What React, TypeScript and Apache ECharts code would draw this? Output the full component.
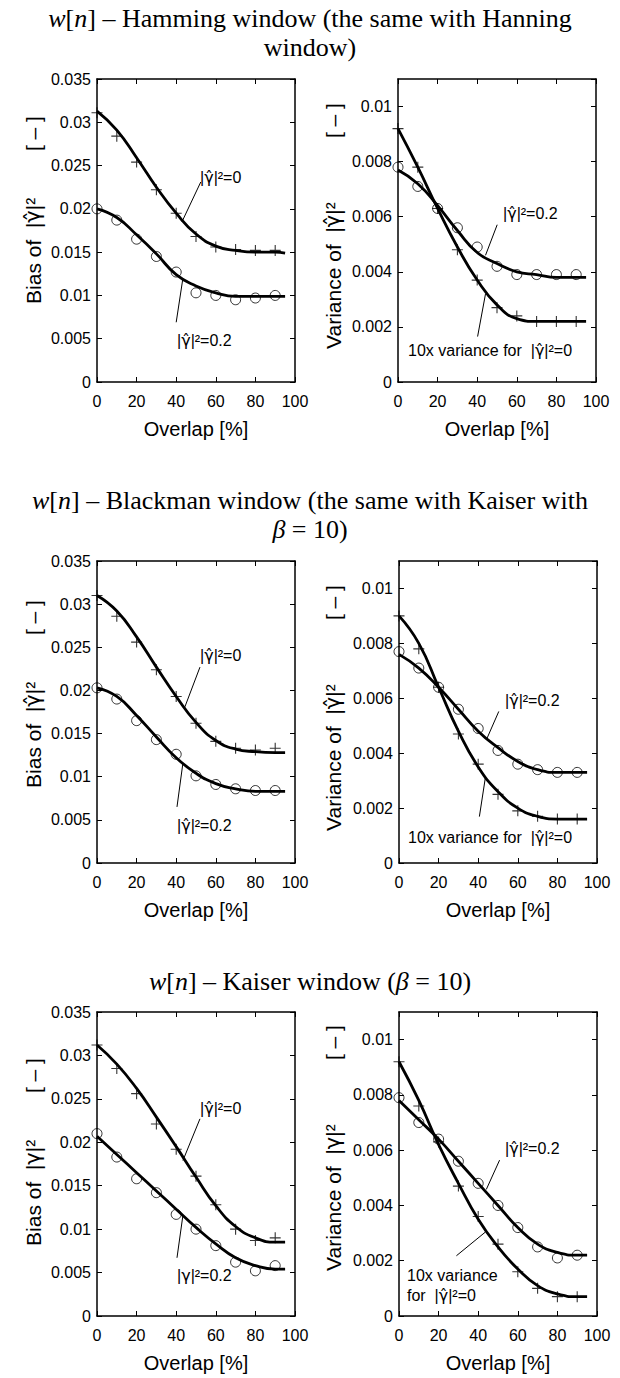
import React, { useEffect, useRef } from "react";
import * as echarts from "echarts";

// ---------- data ----------
const overlap = [0, 10, 20, 30, 40, 50, 60, 70, 80, 90];
const fitOverlap = [0, 10, 20, 30, 40, 50, 60, 70, 80, 90, 95];

const xTickLabels = [0, 20, 40, 60, 80, 100];
const biasTickLabels = [0, 0.005, 0.01, 0.015, 0.02, 0.025, 0.03, 0.035];
const varianceTickLabels = [0, 0.002, 0.004, 0.006, 0.008, 0.01];
const varianceAxisMax = 0.011;

// Hamming window
const hammingBiasG0 = [0.0311, 0.0284, 0.0254, 0.0222, 0.0195, 0.0168, 0.0156, 0.0153, 0.0152, 0.0152];
const hammingBiasG0Fit = [0.0313, 0.0291, 0.0259, 0.0225, 0.0195, 0.0171, 0.0157, 0.0152, 0.015, 0.015, 0.0149];
const hammingBiasG02 = [0.02, 0.0187, 0.0165, 0.0145, 0.0127, 0.0103, 0.01, 0.0095, 0.0097, 0.01];
const hammingBiasG02Fit = [0.02, 0.019, 0.017, 0.0148, 0.0124, 0.0111, 0.0103, 0.0099, 0.0099, 0.0099, 0.0099];
const hammingVarG0 = [0.0092, 0.0078, 0.0063, 0.0048, 0.0037, 0.0027, 0.0024, 0.0022, 0.0022, 0.0022];
const hammingVarG0Fit = [0.0092, 0.0078, 0.0063, 0.0049, 0.0037, 0.0028, 0.0023, 0.0022, 0.0022, 0.0022, 0.0022];
const hammingVarG02 = [0.0078, 0.0071, 0.0063, 0.0056, 0.0049, 0.0042, 0.0039, 0.0039, 0.0039, 0.0039];
const hammingVarG02Fit = [0.0077, 0.0072, 0.0064, 0.0055, 0.0047, 0.0043, 0.004, 0.0039, 0.0038, 0.0038, 0.0038];

// Blackman window
const blackmanBiasG0 = [0.031, 0.0286, 0.0256, 0.0224, 0.0193, 0.0162, 0.0141, 0.0133, 0.0131, 0.0133];
const blackmanBiasG0Fit = [0.031, 0.0292, 0.0262, 0.0227, 0.0193, 0.0163, 0.0142, 0.0132, 0.0129, 0.0128, 0.0128];
const blackmanBiasG02 = [0.0203, 0.019, 0.0165, 0.0143, 0.0126, 0.0101, 0.0091, 0.0086, 0.0084, 0.0084];
const blackmanBiasG02Fit = [0.0203, 0.0193, 0.0171, 0.0146, 0.0122, 0.0104, 0.0092, 0.0086, 0.0083, 0.0083, 0.0083];
const blackmanVarG0 = [0.009, 0.0078, 0.0064, 0.0047, 0.0036, 0.0025, 0.0019, 0.0017, 0.0016, 0.0016];
const blackmanVarG0Fit = [0.009, 0.008, 0.0064, 0.0048, 0.0035, 0.0026, 0.002, 0.0017, 0.0016, 0.0016, 0.0016];
const blackmanVarG02 = [0.0077, 0.0071, 0.0064, 0.0056, 0.0049, 0.0041, 0.0036, 0.0034, 0.0033, 0.0033];
const blackmanVarG02Fit = [0.0076, 0.0071, 0.0064, 0.0056, 0.0048, 0.0042, 0.0037, 0.0034, 0.0033, 0.0033, 0.0033];

// Kaiser window
const kaiserBiasG0 = [0.0312, 0.0285, 0.0256, 0.0221, 0.0192, 0.0161, 0.0128, 0.01, 0.0087, 0.009];
const kaiserBiasG0Fit = [0.0312, 0.029, 0.0262, 0.0229, 0.0195, 0.016, 0.0127, 0.0103, 0.009, 0.0085, 0.0085];
const kaiserBiasG02 = [0.021, 0.0183, 0.0158, 0.0142, 0.0117, 0.01, 0.0081, 0.0062, 0.0052, 0.0058];
const kaiserBiasG02Fit = [0.0207, 0.0186, 0.0165, 0.0144, 0.0123, 0.0102, 0.0083, 0.0067, 0.0058, 0.0054, 0.0054];
const kaiserVarG0 = [0.0092, 0.0076, 0.0063, 0.0047, 0.0036, 0.0026, 0.0016, 0.001, 0.0007, 0.0007];
const kaiserVarG0Fit = [0.0092, 0.0078, 0.0062, 0.0048, 0.0035, 0.0025, 0.0017, 0.0011, 0.0008, 0.0007, 0.0007];
const kaiserVarG02 = [0.0079, 0.007, 0.0064, 0.0056, 0.0048, 0.004, 0.0032, 0.0025, 0.0021, 0.0022];
const kaiserVarG02Fit = [0.0078, 0.0071, 0.0064, 0.0056, 0.0048, 0.004, 0.0032, 0.0026, 0.0023, 0.0022, 0.0022];

// ---------- texts ----------
const titles = [
  "{i|w}[{i|n}] – Hamming window (the same with Hanning\nwindow)",
  "{i|w}[{i|n}] – Blackman window (the same with Kaiser with\n{i|β} = 10)",
  "{i|w}[{i|n}] – Kaiser window ({i|β} = 10)",
];
const xAxisTitle = "Overlap [%]";
const NB = "\u00a0";
const sp = (n: number) => NB.repeat(n);
const gHat = "{g|γ̂}";
const gPlain = "{g|γ}";

// ---------- layout / style ----------
const SANS = "'Liberation Sans', Arial, Helvetica, sans-serif";
const GREEK = "'DejaVu Sans', 'Liberation Sans', sans-serif";
const SERIF = "'Liberation Serif', 'Times New Roman', Times, serif";
const PLUS = "path://M5 0L5 10M0 5L10 5";

type Note = { text: string; x: number; y: number };
type Leader = [[number, number], [number, number]];
type Panel = {
  left: number;
  top: number;
  height: number;
  yTicks: number[];
  yMax: number;
  plus: number[];
  plusFit: number[];
  circ: number[];
  circFit: number[];
  yLabel: string;
  yLabelAt: [number, number];
  notes: Note[];
  leaders: Leader[];
};

const biasLabel = (g: string) => `Bias of${sp(2)}|${g}|²${sp(8)}[ – ]`;
const varLabel = (g: string) => `Variance of${sp(2)}|${g}|²${sp(11)}[ – ]`;

const panels: Panel[] = [
  {
    left: 97, top: 79, height: 303, yTicks: biasTickLabels, yMax: 0.035,
    plus: hammingBiasG0, plusFit: hammingBiasG0Fit, circ: hammingBiasG02, circFit: hammingBiasG02Fit,
    yLabel: biasLabel(gHat), yLabelAt: [33, 210],
    notes: [{ text: `|${gHat}|²=0`, x: 200, y: 177 }, { text: `|${gHat}|²=0.2`, x: 177, y: 340 }],
    leaders: [[[52.4, 0.0231], [42.9, 0.0185]], [[40.0, 0.0069], [43.4, 0.012]]],
  },
  {
    left: 398, top: 79, height: 303, yTicks: varianceTickLabels, yMax: varianceAxisMax,
    plus: hammingVarG0, plusFit: hammingVarG0Fit, circ: hammingVarG02, circFit: hammingVarG02Fit,
    yLabel: varLabel(gHat), yLabelAt: [333, 226],
    notes: [{ text: `|${gHat}|²=0.2`, x: 503, y: 213 }, { text: `10x variance for${sp(2)}|${gHat}|²=0`, x: 408, y: 350 }],
    leaders: [[[50.1, 0.00571], [44.2, 0.0046]], [[40.2, 0.00165], [44.2, 0.0032]]],
  },
  {
    left: 97, top: 561, height: 302, yTicks: biasTickLabels, yMax: 0.035,
    plus: blackmanBiasG0, plusFit: blackmanBiasG0Fit, circ: blackmanBiasG02, circFit: blackmanBiasG02Fit,
    yLabel: biasLabel(gHat), yLabelAt: [33, 694],
    notes: [{ text: `|${gHat}|²=0`, x: 200, y: 655 }, { text: `|${gHat}|²=0.2`, x: 177, y: 825 }],
    leaders: [[[52.0, 0.0227], [44.4, 0.0181]], [[40.4, 0.0065], [43.4, 0.0116]]],
  },
  {
    left: 399, top: 561, height: 302, yTicks: varianceTickLabels, yMax: varianceAxisMax,
    plus: blackmanVarG0, plusFit: blackmanVarG0Fit, circ: blackmanVarG02, circFit: blackmanVarG02Fit,
    yLabel: varLabel(gHat), yLabelAt: [333, 708],
    notes: [{ text: `|${gHat}|²=0.2`, x: 505, y: 700 }, { text: `10x variance for${sp(2)}|${gHat}|²=0`, x: 408, y: 837 }],
    leaders: [[[50.4, 0.00552], [44.5, 0.00455]], [[40.6, 0.00169], [43.6, 0.0031]]],
  },
  {
    left: 97, top: 1012, height: 304, yTicks: biasTickLabels, yMax: 0.035,
    plus: kaiserBiasG0, plusFit: kaiserBiasG0Fit, circ: kaiserBiasG02, circFit: kaiserBiasG02Fit,
    yLabel: biasLabel(gPlain), yLabelAt: [33, 1152],
    notes: [{ text: `|${gHat}|²=0`, x: 200, y: 1108 }, { text: `|${gPlain}|²=0.2`, x: 177, y: 1275 }],
    leaders: [[[52.0, 0.0227], [43.4, 0.0179]], [[40.4, 0.0067], [43.4, 0.0116]]],
  },
  {
    left: 399, top: 1012, height: 304, yTicks: varianceTickLabels, yMax: varianceAxisMax,
    plus: kaiserVarG0, plusFit: kaiserVarG0Fit, circ: kaiserVarG02, circFit: kaiserVarG02Fit,
    yLabel: varLabel(gPlain), yLabelAt: [333, 1148],
    notes: [
      { text: `|${gHat}|²=0.2`, x: 505, y: 1148 },
      { text: "10x variance", x: 407, y: 1275 },
      { text: `for${sp(2)}|${gHat}|²=0`, x: 407, y: 1295 },
    ],
    leaders: [[[50.8, 0.00564], [44.1, 0.00458]], [[29.0, 0.00218], [43.5, 0.00303]]],
  },
];

const titleTops = [4, 486, 967];
const PANEL_WIDTH = 198;

function buildOption() {
  const black = "#000";
  const axisLine = { show: true, onZero: false, lineStyle: { color: black, width: 1.5 } };
  const axisTick = { show: true, inside: true, length: 5, lineStyle: { color: black, width: 1 } };
  const labelStyle = { color: black, fontSize: 16, fontFamily: SANS };

  const grid: any[] = [];
  const xAxis: any[] = [];
  const yAxis: any[] = [];
  const series: any[] = [];
  const graphic: any[] = [];

  panels.forEach((p, i) => {
    grid.push({ left: p.left, top: p.top, width: PANEL_WIDTH, height: p.height, containLabel: false, outerBoundsMode: "none" });
    const xInterval = xTickLabels[1] - xTickLabels[0];
    const yInterval = p.yTicks[1] - p.yTicks[0];
    xAxis.push({
      type: "value", gridIndex: i, position: "bottom",
      min: xTickLabels[0], max: xTickLabels[xTickLabels.length - 1], interval: xInterval,
      axisLine, axisTick, splitLine: { show: false },
      axisLabel: { ...labelStyle, margin: 11 },
      name: xAxisTitle, nameLocation: "middle", nameGap: 37,
      nameTextStyle: { color: black, fontSize: 20, fontFamily: SANS },
    });
    xAxis.push({
      type: "value", gridIndex: i, position: "top",
      min: xTickLabels[0], max: xTickLabels[xTickLabels.length - 1], interval: xInterval,
      axisLine, axisTick, splitLine: { show: false }, axisLabel: { show: false },
    });
    yAxis.push({
      type: "value", gridIndex: i, position: "left",
      min: p.yTicks[0], max: p.yMax, interval: yInterval,
      axisLine, axisTick, splitLine: { show: false },
      axisLabel: { ...labelStyle, margin: 6, showMaxLabel: p.yMax === p.yTicks[p.yTicks.length - 1] },
    });
    yAxis.push({
      type: "value", gridIndex: i, position: "right",
      min: p.yTicks[0], max: p.yMax, interval: yInterval,
      axisLine, axisTick, splitLine: { show: false }, axisLabel: { show: false },
    });

    const xi = 2 * i;
    const yi = 2 * i;
    const fitLine = (vals: number[], withLeaders: boolean) => ({
      type: "line", xAxisIndex: xi, yAxisIndex: yi,
      data: fitOverlap.map((x, k) => [x, vals[k]]),
      smooth: 0.5, showSymbol: false, symbol: "none",
      lineStyle: { color: black, width: 2.8 }, silent: true, emphasis: { disabled: true },
      z: 3,
      markLine: withLeaders
        ? {
            silent: true, symbol: ["none", "none"], label: { show: false },
            lineStyle: { color: black, width: 1, type: "solid" }, emphasis: { disabled: true },
            data: p.leaders.map((l) => [{ coord: l[0] }, { coord: l[1] }]),
          }
        : undefined,
    });
    series.push(fitLine(p.plusFit, true));
    series.push(fitLine(p.circFit, false));
    series.push({
      type: "scatter", xAxisIndex: xi, yAxisIndex: yi,
      data: overlap.map((x, k) => [x, p.plus[k]]),
      symbol: PLUS, symbolSize: [11, 11],
      itemStyle: { color: "rgba(0,0,0,0)", borderColor: black, borderWidth: 1.1 },
      silent: true, emphasis: { disabled: true }, z: 4,
    });
    series.push({
      type: "scatter", xAxisIndex: xi, yAxisIndex: yi,
      data: overlap.map((x, k) => [x, p.circ[k]]),
      symbol: "circle", symbolSize: 10,
      itemStyle: { color: "rgba(0,0,0,0)", borderColor: black, borderWidth: 1 },
      silent: true, emphasis: { disabled: true }, z: 4,
    });

    graphic.push({
      type: "text", x: p.yLabelAt[0], y: p.yLabelAt[1], rotation: Math.PI / 2, silent: true,
      style: {
        text: p.yLabel, fontSize: 21, fontFamily: SANS, fill: black,
        align: "center", verticalAlign: "middle", textAlign: "center", textVerticalAlign: "middle",
        rich: { g: { fontSize: 21, fontFamily: GREEK, fill: black, color: black } },
      },
    });
    p.notes.forEach((n) => {
      graphic.push({
        type: "text", x: n.x, y: n.y, silent: true,
        style: {
          text: n.text, fontSize: 16, fontFamily: SANS, fill: black,
          align: "left", verticalAlign: "middle", textAlign: "left", textVerticalAlign: "middle",
          rich: { g: { fontSize: 16, fontFamily: GREEK, fill: black, color: black } },
        },
      });
    });
  });

  const title = titles.map((t, i) => ({
    text: t, left: "center", top: titleTops[i], padding: 0,
    textStyle: {
      fontFamily: SERIF, fontSize: 26, fontWeight: "normal", color: black, lineHeight: 29,
      rich: { i: { fontFamily: SERIF, fontSize: 26, fontStyle: "italic", color: black, lineHeight: 29 } },
    },
  }));

  return { animation: false, backgroundColor: "#fff", title, grid, xAxis, yAxis, series, graphic };
}

export default function App() {
  const ref = useRef<HTMLDivElement>(null);
  useEffect(() => {
    document.body.style.margin = "0";
    if (!ref.current) return;
    const chart = echarts.init(ref.current, null, { renderer: "svg" });
    chart.setOption(buildOption() as any);
    return () => chart.dispose();
  }, []);
  return <div ref={ref} style={{ width: 620, height: 1378 }} />;
}
